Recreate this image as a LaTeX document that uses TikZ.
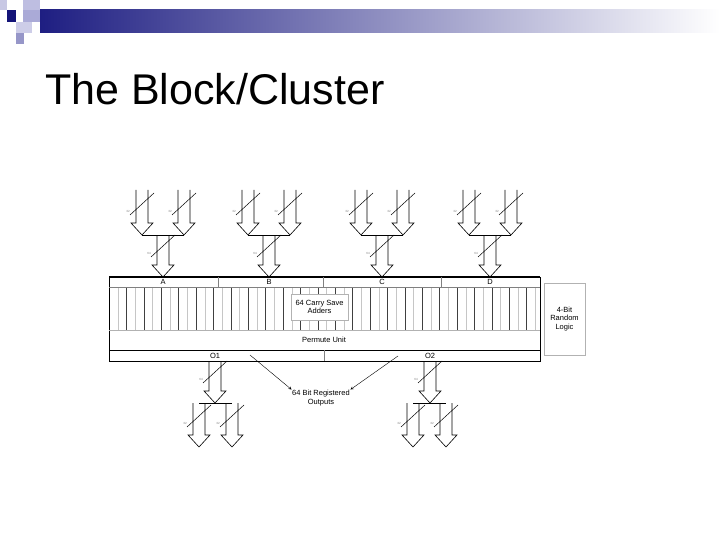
\documentclass[tikz,border=0pt]{standalone}
\usepackage{fontspec}
\setmainfont{Liberation Sans}
\definecolor{navy}{RGB}{30,30,130}
\definecolor{dnavy}{RGB}{20,20,120}
\definecolor{lav1}{RGB}{200,200,228}
\definecolor{lav2}{RGB}{190,190,225}
\definecolor{lav3}{RGB}{170,170,215}
\definecolor{lav4}{RGB}{205,205,232}
\definecolor{lav5}{RGB}{150,150,200}
\begin{document}
\begin{tikzpicture}[x=1pt,y=-1pt,line join=miter,
  lbl/.style={font=\fontsize{7.5}{8.5}\selectfont,align=center,inner sep=0.5pt},
  tiny/.style={font=\fontsize{3}{3}\selectfont,inner sep=0pt,gray}]
\useasboundingbox (0,0) rectangle (720,540);
% header
\fill[white] (0,0) rectangle (720,540);
\shade[left color=navy,right color=white] (40,10) rectangle (720,33);
\fill[lav1] (0,0) rectangle (7,10);
\fill[dnavy] (7,10) rectangle (16,22);
\fill[lav2] (23,0) rectangle (40,10);
\fill[lav3] (23,10) rectangle (40,22);
\fill[lav4] (16,22) rectangle (32,33);
\fill[lav5] (16,33) rectangle (24,44);
\node[anchor=base west,font=\fontsize{43}{45}\selectfont,inner sep=0] (title) at (45,105) {The Block/Cluster};
% big arrow macro: #1 x, #2 ytop, #3 ytip, #4 bus label
\newcommand\bigarr[4]{%
  \draw[line width=0.6pt] (#1-6,#2) -- (#1-6,#3-12) -- (#1-11,#3-12) -- (#1,#3) -- (#1+11,#3-12) -- (#1+6,#3-12) -- (#1+6,#2);
  \draw[line width=0.5pt] (#1-12,#3-20) -- (#1+12,#3-42);
  \node[tiny] at (#1-14,#3-24) {#4};}
% inputs
\foreach \c in {163,269,382,490}{
  \bigarr{\c-21}{190}{235}{32}
  \bigarr{\c+21}{190}{235}{32}
  \draw[line width=0.6pt] (\c-21,235) -- (\c+21,235);
  \bigarr{\c}{235}{277}{64}
}
% outputs
\foreach \c/\l/\r in {215/199/232,430/413/446}{
  \bigarr{\c}{361}{403}{64}
  \draw[line width=0.6pt] (\l,403) -- (\r,403);
  \bigarr{\l}{403}{447}{32}
  \bigarr{\r}{403}{447}{32}
}
% vertical adder lines
\foreach \i in {0,...,49}{
  \pgfmathsetmacro\xx{109+8.7*\i}
  \ifodd\i \draw[gray!45] (\xx,287) -- (\xx,330); \else \draw[black!75] (\xx,287) -- (\xx,330); \fi
}
% main block
\draw[line width=0.6pt] (109,277) rectangle (540,361);
\draw[line width=1.2pt] (109,277) -- (540,277);
\draw[gray] (109,287) -- (540,287);
\draw[gray!60] (109,330) -- (540,330);
\draw[line width=0.6pt] (109,350) -- (540,350);
\foreach \x in {218,323,441} \draw[gray] (\x,277) -- (\x,287);
\draw[gray] (324,350) -- (324,361);
\node[lbl] (A) at (163,282) {A};
\node[lbl] (B) at (269,282) {B};
\node[lbl] (C) at (382,282) {C};
\node[lbl] (D) at (490,282) {D};
\node[lbl] (O1) at (215,355.5) {O1};
\node[lbl] (O2) at (430,355.5) {O2};
\node[lbl] (perm) at (324,340) {Permute Unit};
\node[lbl,draw=gray!60,fill=white,minimum width=57pt,minimum height=26pt] (csa) at (319.5,307) {64 Carry Save\\Adders};
\node[lbl,draw=gray!60,minimum width=41pt,minimum height=72pt] (rl) at (564.5,319) {4-Bit\\Random\\Logic};
% registered outputs
\node[lbl] (reg) at (321,398) {64 Bit Registered\\Outputs};
\coordinate (p1) at (250,355);
\coordinate (p2) at (398,356);
\draw[-stealth,thin] (p1) -- (reg.north west);
\draw[-stealth,thin] (p2) -- (reg.north east);
\end{tikzpicture}
\end{document}
